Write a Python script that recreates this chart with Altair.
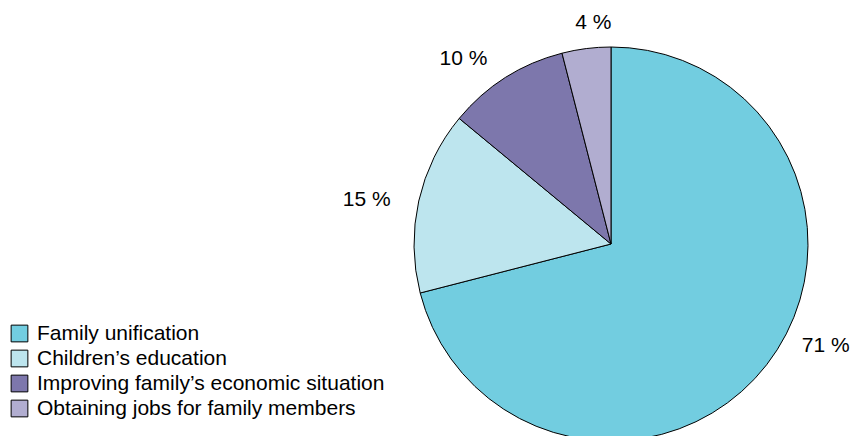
import altair as alt
import pandas as pd

# data
categories = [
    "Family unification",
    "Children\u2019s education",
    "Improving family\u2019s economic situation",
    "Obtaining jobs for family members",
]
values = [71, 15, 10, 4]
labels = ["71 %", "15 %", "10 %", "4 %"]
colors = ["#72CDE0", "#BDE5EE", "#7D77AC", "#B1ADD0"]

# layout nudges for the slice labels (pixels, relative to the rim point at mid-angle)
label_dx = [59, -52, -42, 7]
label_dy = [-19, -1, -19, -26]

CX, CY, R = 603, 236, 197
FONT = "Liberation Sans"

df = pd.DataFrame({
    "category": categories,
    "value": values,
    "label": labels,
    "order": list(range(len(categories))),
})

color_scale = alt.Scale(domain=categories, range=colors)

pie = alt.Chart(df).mark_arc(
    stroke="black", strokeWidth=1, radius=R
).encode(
    x=alt.value(CX),
    y=alt.value(CY),
    theta=alt.Theta("value:Q", stack=True),
    order=alt.Order("order:Q"),
    color=alt.Color(
        "category:N",
        scale=color_scale,
        sort=categories,
        legend=alt.Legend(
            title=None,
            orient="none",
            legendX=1,
            legendY=315,
            padding=0,
            symbolType="square",
            symbolSize=280,
            symbolStrokeColor="black",
            symbolStrokeWidth=1,
            labelFont=FONT,
            labelFontSize=21,
            labelColor="black",
            labelOffset=7,
            rowPadding=3,
            labelLimit=600,
        ),
    ),
)

layers = [pie]
for cat, dxv, dyv in zip(categories, label_dx, label_dy):
    t = alt.Chart(df).transform_window(
        cum="sum(value)", sort=[alt.SortField("order")], frame=[None, 0]
    ).transform_joinaggregate(
        total="sum(value)"
    ).transform_calculate(
        mid="(datum.cum - datum.value / 2) / datum.total"
    ).transform_filter(
        alt.datum.category == cat
    ).mark_text(
        radius=R, dx=dxv, dy=dyv, font=FONT, fontSize=21, color="black",
        align="center", baseline="middle",
    ).encode(
        x=alt.value(CX),
        y=alt.value(CY),
        theta=alt.Theta("mid:Q", stack=None,
                        scale=alt.Scale(domain=[0, 1], range=[0, 6.283185307179586])),
        text="label:N",
    )
    layers.append(t)

chart = alt.layer(*layers).resolve_scale(theta="independent").properties(
    width=843,
    height=428,
    autosize=alt.AutoSizeParams(type="none"),
    padding=0,
).configure_view(stroke=None)

chart.save("out.html", embed_options={"renderer": "svg", "actions": False})
